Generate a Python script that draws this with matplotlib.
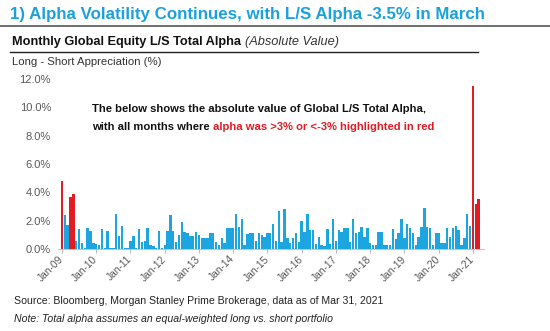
import matplotlib
matplotlib.use("Agg")
import matplotlib.pyplot as plt
import numpy as np

plt.rcParams['font.family'] = ['Liberation Sans', 'DejaVu Sans']

# Monthly absolute L/S total alpha (%), Jan-2009 .. Mar-2021
alpha_2009 = [4.8, 2.4, 1.7, 3.7, 3.9, 0.6, 1.4, 0.4, 0.1, 1.45, 1.3, 0.4]
alpha_2010 = [0.35, 0.3, 1.4, 0.1, 1.3, 0.1, 0.1, 2.5, 0.9, 1.6, 0.1, 0.05]
alpha_2011 = [0.6, 0.9, 0.1, 1.4, 0.5, 0.6, 1.5, 0.3, 0.2, 0.05, 1.3, 0.1]
alpha_2012 = [0.3, 1.3, 2.4, 1.3, 0.5, 1.0, 1.9, 1.2, 1.1, 0.9, 0.9, 1.2]
alpha_2013 = [1.0, 0.75, 0.8, 0.75, 1.15, 1.1, 0.5, 0.3, 0.75, 0.4, 1.45, 1.5]
alpha_2014 = [1.5, 2.5, 1.55, 2.1, 0.3, 1.05, 1.15, 1.15, 0.6, 1.1, 1.0, 0.85]
alpha_2015 = [1.1, 1.1, 1.75, 0.6, 2.7, 0.5, 2.85, 0.75, 0.45, 0.75, 1.1, 0.5]
alpha_2016 = [2.0, 1.2, 2.5, 1.35, 1.35, 0.35, 0.85, 0.3, 0.2, 1.4, 0.35, 2.1]
alpha_2017 = [0.6, 1.35, 1.2, 1.5, 1.5, 0.5, 2.1, 1.1, 1.2, 1.55, 0.85, 1.45]
alpha_2018 = [0.45, 0.3, 0.3, 1.2, 1.2, 0.3, 0.3, 0.3, 1.4, 0.7, 1.15, 2.1]
alpha_2019 = [0.75, 1.8, 1.45, 1.1, 0.3, 0.85, 1.55, 2.9, 1.55, 1.5, 0.3, 1.1]
alpha_2020 = [1.1, 0.45, 0.45, 1.5, 0.85, 1.5, 1.6, 1.35, 0.3, 0.75, 2.45, 1.6]
alpha_2021 = [11.5, 3.2, 3.5]

alpha = np.array(alpha_2009 + alpha_2010 + alpha_2011 + alpha_2012 + alpha_2013
                 + alpha_2014 + alpha_2015 + alpha_2016 + alpha_2017 + alpha_2018
                 + alpha_2019 + alpha_2020 + alpha_2021)
threshold = 3.0

tick_labels = ["Jan-09", "Jan-10", "Jan-11", "Jan-12", "Jan-13", "Jan-14", "Jan-15",
               "Jan-16", "Jan-17", "Jan-18", "Jan-19", "Jan-20", "Jan-21"]
y_ticks = [0, 2, 4, 6, 8, 10, 12]

BLUE = "#1DA5E0"
RED = "#E31B23"
TITLE_BLUE = "#1BA1DB"
GREY = "#595959"

W, H = 550, 331
fig = plt.figure(figsize=(W / 100, H / 100), dpi=100)


def fx(px):
    return px / W


def fy(py):
    return 1 - py / H


# Header
fig.text(fx(10), fy(14), "1) Alpha Volatility Continues, with L/S Alpha -3.5% in March",
         color=TITLE_BLUE, fontsize=12.2, fontweight="bold", va="center", ha="left")
fig.add_artist(plt.Line2D([0, 1], [fy(26), fy(26)], color="#555555", lw=1.2))

sub = fig.text(fx(12), fy(42), "Monthly Global Equity L/S Total Alpha",
               color="#111111", fontsize=9.2, fontweight="bold", va="center", ha="left")
fig.canvas.draw()
renderer = fig.canvas.get_renderer()
bb = sub.get_window_extent(renderer)
fig.text(bb.x1 / W + fx(4), fy(42), "(Absolute Value)", color="#333333",
         fontsize=9.2, fontstyle="italic", va="center", ha="left")
fig.add_artist(plt.Line2D([fx(10), fx(478)], [fy(51.5), fy(51.5)], color="#222222", lw=1.0))

fig.text(fx(12), fy(62), "Long - Short Appreciation (%)", color="#333333",
         fontsize=8.2, va="center", ha="left")

# Bar chart
ax = fig.add_axes([fx(58), fy(249), fx(484 - 58), (249 - 79) / H])
x = np.arange(len(alpha))
colors = [RED if v > threshold else BLUE for v in alpha]
ax.bar(x, alpha, width=0.85, color=colors, linewidth=0)

ax.set_xlim(-1.4, 147.9)
ax.set_ylim(0, 12)
ax.set_yticks(y_ticks)
ax.set_yticklabels([f"{t:.1f}%" for t in y_ticks], color=GREY, fontsize=8)
ax.tick_params(axis="y", length=0, pad=5)

ax.set_xticks(np.arange(0, len(alpha), 12))
ax.set_xticklabels(tick_labels, rotation=45, ha="right", va="center",
                   rotation_mode="anchor", color=GREY, fontsize=7.4)
ax.tick_params(axis="x", length=3, color="#BBBBBB", pad=3)

for s in ["top", "right", "left"]:
    ax.spines[s].set_visible(False)
ax.spines["bottom"].set_color("#BBBBBB")
ax.spines["bottom"].set_linewidth(0.6)

# In-chart annotation
fig.text(fx(92), fy(109), "The below shows the absolute value of Global L/S Total Alpha,",
         color="#111111", fontsize=8.1, fontweight="bold", va="center", ha="left")
t1 = fig.text(fx(92), fy(127), "with all months where ", color="#111111",
              fontsize=8.1, fontweight="bold", va="center", ha="left")
fig.canvas.draw()
bb = t1.get_window_extent(renderer)
fig.text(bb.x1 / W, fy(127), "alpha was >3% or <-3% highlighted in red", color=RED,
         fontsize=8.1, fontweight="bold", va="center", ha="left")

# Footer
fig.text(fx(14), fy(301), "Source: Bloomberg, Morgan Stanley Prime Brokerage, data as of Mar 31, 2021",
         color="#222222", fontsize=7.6, va="center", ha="left")
fig.text(fx(14), fy(319), "Note: Total alpha assumes an equal-weighted long vs. short portfolio",
         color="#222222", fontsize=7.6, fontstyle="italic", va="center", ha="left")

fig.savefig("out.png", dpi=100, facecolor="white")
